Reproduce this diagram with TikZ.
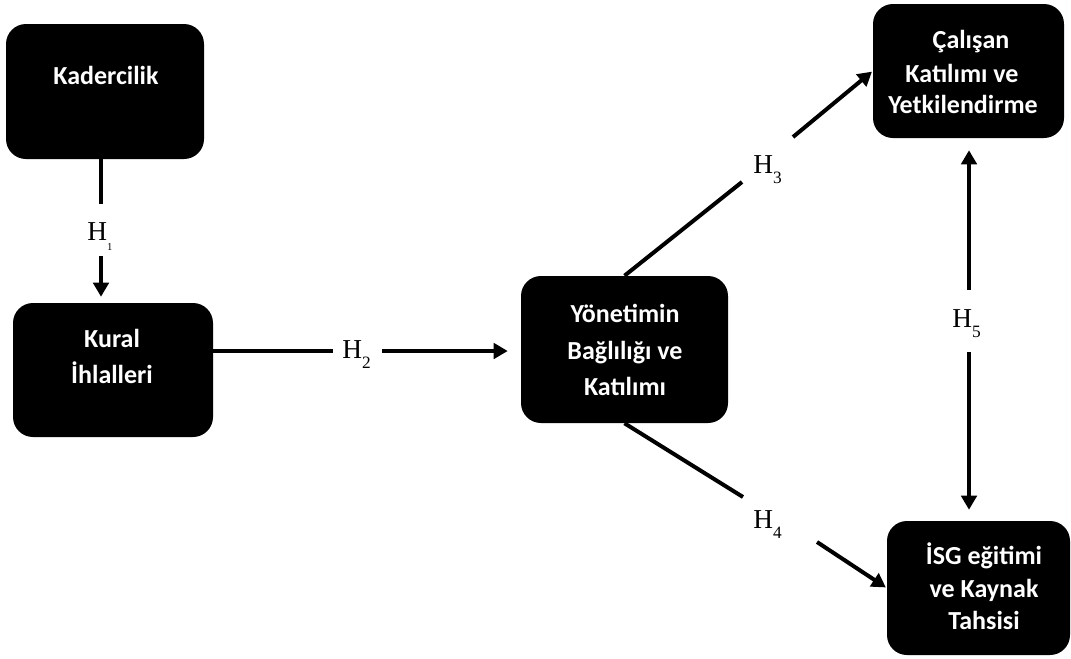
\documentclass[tikz,border=0pt]{standalone}
\usepackage{fontspec}
\setmainfont{Liberation Serif}
\newfontfamily\boxfont{Carlito}
\usetikzlibrary{arrows.meta}
\tikzset{
  box/.style={draw=none, fill=black, rounded corners=15pt, inner sep=0pt},
  btxt/.style={text=white, font=\boxfont\bfseries\fontsize{19.5}{23}\selectfont, anchor=base, inner sep=0pt},
  hlab/.style={font=\fontsize{20.5}{24}\selectfont, anchor=base west, inner sep=0pt},
  conn/.style={line width=3pt},
  arr/.style={line width=3pt, -{Triangle[length=10.5pt,width=11.5pt]}}
}
\newcommand{\hyp}[2][13]{H\raisebox{-7.5pt}{\fontsize{#1}{14}\selectfont #2}}
\begin{document}
\begin{tikzpicture}[x=0.75pt,y=-0.75pt]
\useasboundingbox (0,0) rectangle (1071,658);
% boxes
\node[box, minimum width=148.5pt, minimum height=101.25pt] (kad) at (105,91.5) {};
\node[box, minimum width=150pt, minimum height=100.5pt] (kur) at (113,370) {};
\node[box, minimum width=155.25pt, minimum height=110.25pt] (yon) at (624.5,349.5) {};
\node[box, minimum width=143.25pt, minimum height=100.5pt] (cal) at (968.5,71) {};
\node[box, minimum width=137.25pt, minimum height=100.5pt] (isg) at (978.5,588) {};
% box texts
\node[btxt] (kadT) at (106,84) {Kadercilik};
\node[btxt] (kurT1) at (112,347) {Kural};
\node[btxt] (kurT2) at (112,383) {İhlalleri};
\node[btxt] (yonT1) at (625,322) {Yönetimin};
\node[btxt] (yonT2) at (625,359) {Bağlılığı ve};
\node[btxt] (yonT3) at (625,395) {Katılımı};
\node[btxt] (calT1) at (971,48) {Çalışan};
\node[btxt] (calT2) at (962,82) {Katılımı ve};
\node[btxt] (calT3) at (963,113) {Yetkilendirme};
\node[btxt] (isgT1) at (984,564) {İSG eğitimi};
\node[btxt] (isgT2) at (984,597) {ve Kaynak};
\node[btxt] (isgT3) at (984,629) {Tahsisi};
% hypothesis labels
\node[hlab] (h1) at (87,240) {\hyp[8]{1}};
\node[hlab] (h2) at (342,358) {\hyp{2}};
\node[hlab] (h3) at (753,173) {\hyp{3}};
\node[hlab] (h4) at (753,528) {\hyp{4}};
\node[hlab] (h5) at (952,327) {\hyp{5}};
% gap coordinates
\coordinate (g1a) at (101,204);
\coordinate (g1b) at (101,256);
\coordinate (g2a) at (333,351);
\coordinate (g2b) at (382,351);
\coordinate (g3a) at (742,182);
\coordinate (g3b) at (793,137);
\coordinate (g4a) at (743,497);
\coordinate (g4b) at (817,542);
\coordinate (g5a) at (969,290);
\coordinate (g5b) at (969,352);
% connectors
\draw[conn] (kad.south -| g1a) -- (g1a);
\draw[arr, shorten >=4.5pt] (g1b) -- (kur.north -| g1b);
\draw[conn] (kur.east |- g2a) -- (g2a);
\draw[arr, shorten >=9.75pt] (g2b) -- (yon.west |- g2b);
\draw[conn] (yon.north) -- (g3a);
\draw[arr, shorten >=0.75pt] (g3b) -- (cal.west);
\draw[conn] (yon.south) -- (g4a);
\draw[arr, shorten >=0.75pt] (g4b) -- (isg.west);
\draw[arr, shorten >=9pt] (g5a) -- (cal.south -| g5a);
\draw[arr, shorten >=8.25pt] (g5b) -- (isg.north -| g5b);
\end{tikzpicture}
\end{document}
